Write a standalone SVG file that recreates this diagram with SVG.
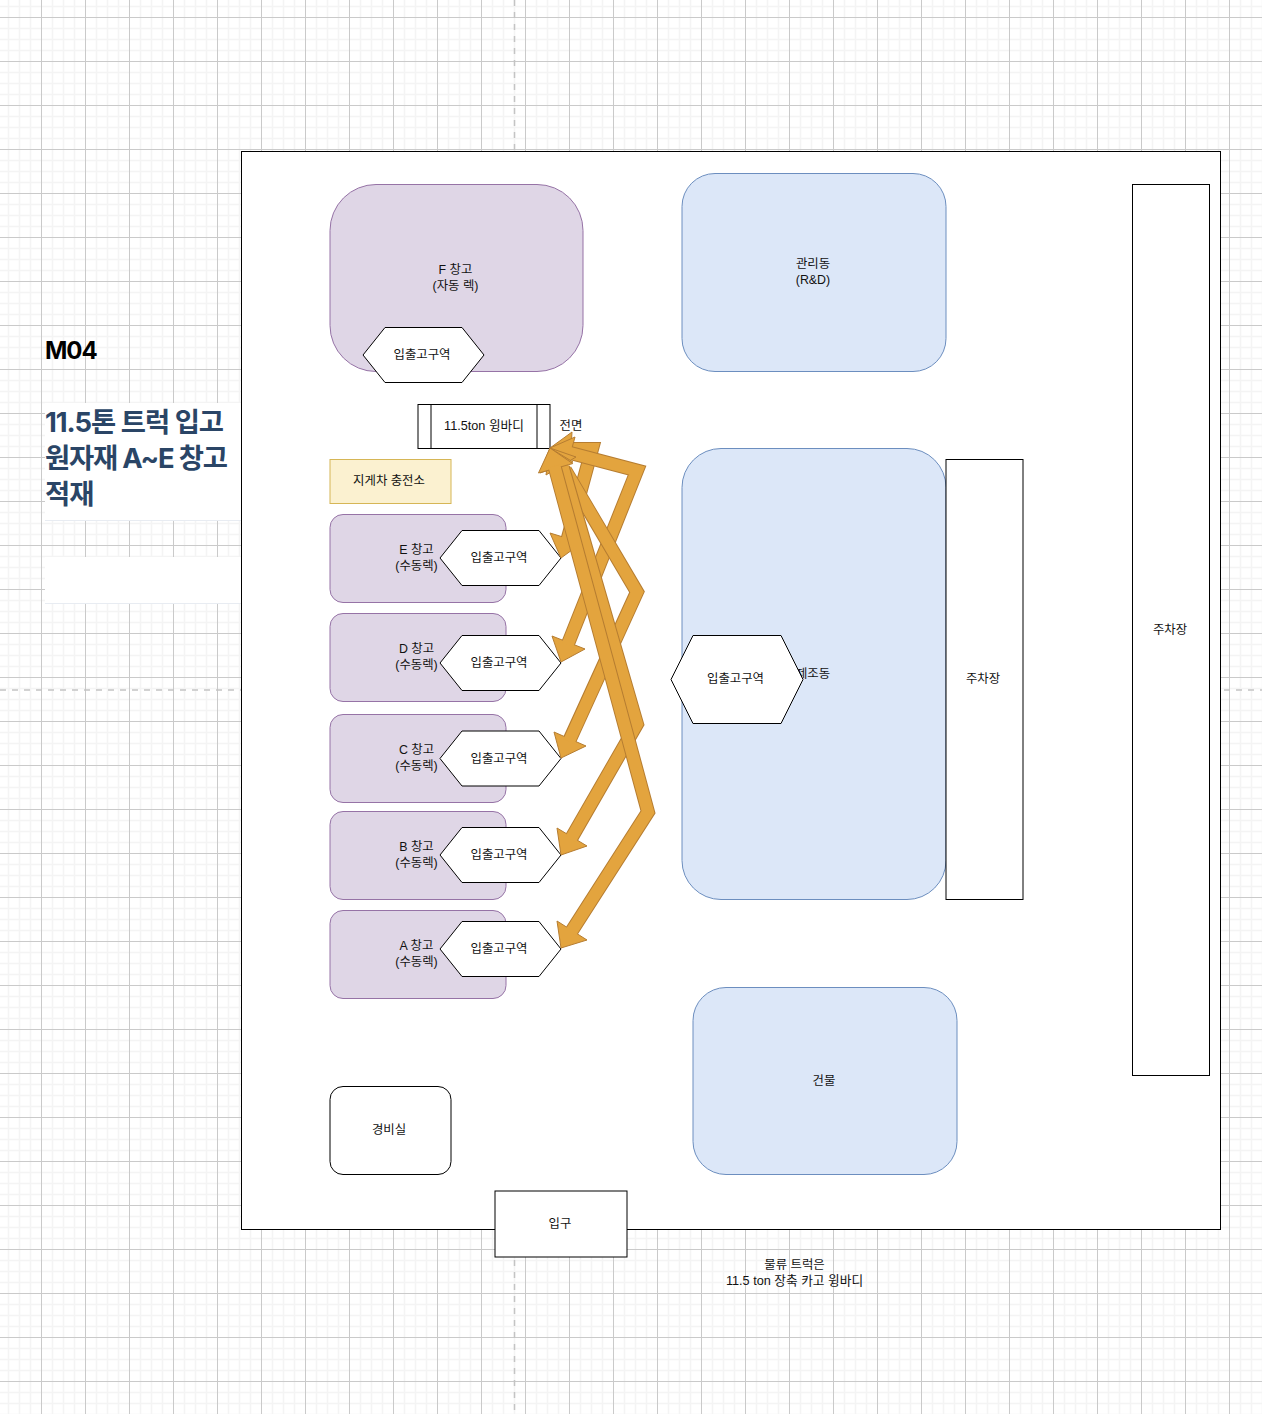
<svg xmlns="http://www.w3.org/2000/svg" width="1262" height="1414" viewBox="0 0 1262 1414">
<style>
text{font-family:"Liberation Sans","Noto Sans CJK KR",sans-serif;font-size:12.4px;fill:#111;text-anchor:middle}
.lat{font-size:12.7px}
.head{font-family:Inter,"Noto Sans CJK KR",sans-serif;font-weight:700;text-anchor:start}
.ttl{font-size:27.4px;fill:#2a4566;letter-spacing:-1px}
.w{fill:#fff;stroke:#000;stroke-width:1}
.p{fill:#dfd6e6;stroke:#9673a6;stroke-width:1}
.b{fill:#dce7f8;stroke:#6c8ebf;stroke-width:1}
.dash{stroke:#c4c4c4;stroke-width:1.5;stroke-dasharray:6 6;fill:none}
.so{fill:none;stroke:#b67d31;stroke-width:14;stroke-linejoin:miter;stroke-miterlimit:10}
.si{fill:none;stroke:#e3a43e;stroke-width:12;stroke-linejoin:miter;stroke-miterlimit:10}
.ah{fill:#e3a43e;stroke:#b67d31;stroke-width:1;stroke-linejoin:miter}
</style>
<defs>
<pattern id="grid" patternUnits="userSpaceOnUse" x="41" y="17" width="44" height="44">
<path d="M11.5 0V44M22.5 0V44M33.5 0V44M0 11.5H44M0 22.5H44M0 33.5H44" stroke="#f4f4f4" stroke-width="1.6" fill="none"/>
<path d="M0.5 0V44M0 0.5H44" stroke="#cacaca" stroke-width="1" fill="none"/>
</pattern>
</defs>
<rect width="1262" height="1414" fill="#fff"/>
<rect width="1262" height="1414" fill="url(#grid)"/>
<path class="dash" d="M514.5 0V1414M0 690H1262"/>
<g id="heading">
<rect x="45" y="403" width="196" height="117" fill="#fff"/>
<rect x="45" y="557" width="196" height="46" fill="#fff"/>
<path d="M45 520.5H241M45 603.5H241" stroke="#e8ecf2" stroke-width="1" fill="none"/>
<text class="head" x="45" y="358.5" style="font-size:24px;fill:#000;letter-spacing:-1px">M04</text>
<text class="head ttl" x="45" y="432">11.5톤 트럭 입고</text>
<text class="head ttl" x="45" y="468" style="letter-spacing:-1.2px">원자재 A~E 창고</text>
<text class="head ttl" x="45" y="504">적재</text>
</g>
<g id="site"><rect class="w" x="241.5" y="151.5" width="979" height="1078"/></g>
<g id="parking-1"><rect class="w" x="1132.5" y="184.5" width="77" height="891"/><text x="1170" y="634">주차장</text></g>
<g id="building-f"><rect class="p" x="330" y="184.5" width="253" height="187" rx="46"/><text x="455.5" y="274">F 창고</text><text x="455.5" y="290">(자동 렉)</text></g>
<g id="entry-f"><polygon class="w" points="363,355 385,327.5 462,327.5 484,355 462,382.5 385,382.5"/><text x="422" y="359">입출고구역</text></g>
<g id="building-admin"><rect class="b" x="682" y="173.5" width="264" height="198" rx="33"/><text x="813" y="268">관리동</text><text x="813" y="284">(R&amp;D)</text></g>
<g id="truck"><rect class="w" x="418" y="404.5" width="132" height="44"/><path d="M431 404.5V448.5M537 404.5V448.5" stroke="#000" fill="none"/><text class="lat" x="484" y="430">11.5ton 윙바디</text></g>
<g id="front-label"><text x="571" y="430">전면</text></g>
<g id="charging"><rect x="330" y="459.5" width="121" height="44" fill="#fbf1d0" stroke="#d6b656"/><text x="389" y="485">지게차 충전소</text></g>
<g id="building-mfg"><rect class="b" x="682" y="448.5" width="264" height="451" rx="39"/><text x="813" y="678">제조동</text></g>
<g id="entry-mfg"><polygon class="w" points="671,679.5 693,635.5 781,635.5 803,679.5 781,723.5 693,723.5"/><text x="735.5" y="683">입출고구역</text></g>
<g id="parking-2"><rect class="w" x="946" y="459.5" width="77" height="440"/><text x="983" y="683">주차장</text></g>
<g id="building-other"><rect class="b" x="693" y="987.5" width="264" height="187" rx="33"/><text x="824" y="1085">건물</text></g>
<g id="guard"><rect class="w" x="330" y="1086.5" width="121" height="88" rx="13"/><text x="389" y="1134">경비실</text></g>
<g id="gate"><rect class="w" x="495" y="1191" width="132" height="66"/><text x="560" y="1228">입구</text></g>
<g id="note"><text x="794.5" y="1269">물류 트럭은</text><text class="lat" x="794.5" y="1285">11.5 ton 장축 카고 윙바디</text></g>
<g id="wh-e"><rect class="p" x="330" y="514.5" width="176" height="88" rx="13"/><text x="416.5" y="554">E 창고</text><text x="416.5" y="570">(수동렉)</text><polygon class="w" points="440,558 462,530.5 539,530.5 561,558 539,585.5 462,585.5"/><text x="499" y="562">입출고구역</text></g>
<g id="wh-d"><rect class="p" x="330" y="613.5" width="176" height="88" rx="13"/><text x="416.5" y="653">D 창고</text><text x="416.5" y="669">(수동렉)</text><polygon class="w" points="440,663 462,635.5 539,635.5 561,663 539,690.5 462,690.5"/><text x="499" y="667">입출고구역</text></g>
<g id="wh-c"><rect class="p" x="330" y="714.5" width="176" height="88" rx="13"/><text x="416.5" y="754">C 창고</text><text x="416.5" y="770">(수동렉)</text><polygon class="w" points="440,758.5 462,731 539,731 561,758.5 539,786 462,786"/><text x="499" y="763">입출고구역</text></g>
<g id="wh-b"><rect class="p" x="330" y="811.5" width="176" height="88" rx="13"/><text x="416.5" y="851">B 창고</text><text x="416.5" y="867">(수동렉)</text><polygon class="w" points="440,855 462,827.5 539,827.5 561,855 539,882.5 462,882.5"/><text x="499" y="859">입출고구역</text></g>
<g id="wh-a"><rect class="p" x="330" y="910.5" width="176" height="88" rx="13"/><text x="416.5" y="950">A 창고</text><text x="416.5" y="966">(수동렉)</text><polygon class="w" points="440,949 462,921.5 539,921.5 561,949 539,976.5 462,976.5"/><text x="499" y="953">입출고구역</text></g>
<g id="connectors">
<g id="c-e">
<polyline class="so" points="570,449 592,449 566,545"/>
<polygon class="ah" points="550,448 572,432 570,464"/>
<polygon class="ah" points="561,558 550,533 563,537 572,550"/>
<polyline class="si" points="568,449 592,449 565,549"/>
</g>
<g id="c-d">
<polyline class="so" points="570.4,453 637,470.5 568.5,642.5"/>
<polygon class="ah" points="550,448 575,437 566,470"/>
<polygon class="ah" points="561,662 552,636 585,649"/>
<polyline class="si" points="568.4,452.5 637,470.5 567.5,645"/>
</g>
<g id="c-c">
<polyline class="so" points="565,470 637,592 570,739"/>
<polygon class="ah" points="550,448 576,457 546,475"/>
<polygon class="ah" points="561,758 554,732 586,746"/>
<polyline class="si" points="564,468 637,592 569,741.5"/>
</g>
<g id="c-b">
<polyline class="so" points="563,468 637,724 572,837"/>
<polygon class="ah" points="550,448 573,462 540,473"/>
<polygon class="ah" points="561,855 557,828 587,846"/>
<polyline class="si" points="562.3,466 637,724 570.8,839"/>
</g>
<g id="c-a">
<polyline class="so" points="555,468 648,812 572,930.5"/>
<polygon class="ah" points="550,448 572.7,463.6 538.5,473"/>
<polygon class="ah" points="561,948 557,921 587,940"/>
<polyline class="si" points="554.4,466 648,812 570.9,932.2"/>
</g>
</g>
</svg>
